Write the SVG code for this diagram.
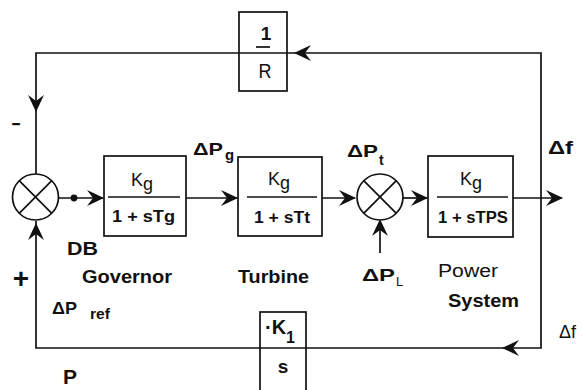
<svg xmlns="http://www.w3.org/2000/svg" width="583" height="390" viewBox="0 0 583 390">
<style>
.ln{fill:none;stroke:#111;stroke-width:1.7}
.bx{fill:#fff;stroke:#111;stroke-width:1.7}
.ah{fill:#111;stroke:none}
text{font-family:"Liberation Sans",Arial,sans-serif;fill:#111}
.b{font-weight:bold}
.n{font-weight:normal}
</style>
<defs>
<path id="ah" d="M0,0 L-17,-8 L-11,0 L-17,8 Z"/>
</defs>
<rect width="583" height="390" fill="#fff"/>

<g id="connectors">
<path class="ln" d="M36,221 V348 H541 V53 H36 V174"/>
<path class="ln" d="M58,198 H103"/>
<circle cx="74" cy="198" r="3.4" fill="#111"/>
<path class="ln" d="M186,198 H237"/>
<path class="ln" d="M322,198 H355"/>
<path class="ln" d="M403,198 H427"/>
<path class="ln" d="M513,198 H562"/>
<path class="ln" d="M380,253 V221"/>
<use href="#ah" class="ah" transform="translate(104,198)"/>
<use href="#ah" class="ah" transform="translate(238,198)"/>
<use href="#ah" class="ah" transform="translate(356,198)"/>
<use href="#ah" class="ah" transform="translate(428,198)"/>
<use href="#ah" class="ah" transform="translate(563,198)"/>
<use href="#ah" class="ah" transform="translate(294,53) rotate(180)"/>
<use href="#ah" class="ah" transform="translate(36,112) rotate(90)"/>
<use href="#ah" class="ah" transform="translate(36,223) rotate(-90)"/>
<use href="#ah" class="ah" transform="translate(380,219) rotate(-90)"/>
<use href="#ah" class="ah" transform="translate(502,348) rotate(180)"/>
</g>

<g id="feedback-R">
<rect class="bx" x="239" y="12" width="48" height="79"/>
<line class="ln" x1="239" y1="53" x2="287" y2="53"/>
<line class="ln" x1="256" y1="47" x2="270" y2="47"/>
<text class="b" x="266" y="40" font-size="19" text-anchor="middle">1</text>
<text class="n" x="265" y="78" font-size="21" text-anchor="middle" textLength="13" lengthAdjust="spacingAndGlyphs">R</text>
</g>

<g id="sum1">
<circle class="bx" cx="35.5" cy="197" r="23"/>
<path class="ln" d="M19.2,180.7 L51.8,213.3 M51.8,180.7 L19.2,213.3"/>
</g>

<g id="governor">
<rect class="bx" x="104" y="156" width="82" height="80"/>
<line class="ln" x1="108" y1="197" x2="180" y2="197"/>
<text class="n" x="131" y="186" font-size="18">K<tspan dy="4">g</tspan></text>
<text class="b" x="112" y="222" font-size="16" textLength="63" lengthAdjust="spacingAndGlyphs">1 + sTg</text>
</g>

<g id="turbine">
<rect class="bx" x="238" y="157" width="84" height="79"/>
<line class="ln" x1="247" y1="197" x2="317" y2="197"/>
<text class="n" x="268" y="185" font-size="18">K<tspan dy="4">g</tspan></text>
<text class="b" x="254" y="223" font-size="16" textLength="56" lengthAdjust="spacingAndGlyphs">1 + sTt</text>
</g>

<g id="sum2">
<circle class="bx" cx="380" cy="197" r="23"/>
<path class="ln" d="M363.7,180.7 L396.3,213.3 M396.3,180.7 L363.7,213.3"/>
</g>

<g id="power-system">
<rect class="bx" x="428" y="156" width="85" height="81"/>
<line class="ln" x1="437" y1="197" x2="508" y2="197"/>
<text class="n" x="460" y="185" font-size="18">K<tspan dy="4">g</tspan></text>
<text class="b" x="438" y="223" font-size="16" textLength="70" lengthAdjust="spacingAndGlyphs">1 + sTPS</text>
</g>

<g id="integrator">
<rect class="bx" x="260" y="312" width="46" height="90"/>
<line class="ln" x1="260" y1="348" x2="306" y2="348"/>
<text class="b" x="265" y="334" font-size="20">·K<tspan font-size="16" dy="9">1</tspan></text>
<text class="b" x="283" y="373" font-size="19" text-anchor="middle">s</text>
</g>

<g id="labels">
<text class="b" x="193" y="155" font-size="17" textLength="30" lengthAdjust="spacingAndGlyphs">ΔP</text>
<text class="b" x="225" y="160" font-size="15">g</text>
<text class="b" x="347" y="157" font-size="17" textLength="31" lengthAdjust="spacingAndGlyphs">ΔP</text>
<text class="b" x="379" y="165" font-size="14">t</text>
<text class="b" x="548" y="154" font-size="18" textLength="25" lengthAdjust="spacingAndGlyphs">Δf</text>
<text class="b" x="67" y="255" font-size="19" textLength="31" lengthAdjust="spacingAndGlyphs">DB</text>
<text class="b" x="82" y="283" font-size="19" textLength="90" lengthAdjust="spacingAndGlyphs">Governor</text>
<text class="b" x="238" y="283" font-size="19" textLength="71" lengthAdjust="spacingAndGlyphs">Turbine</text>
<text class="b" x="362" y="281" font-size="17" textLength="33" lengthAdjust="spacingAndGlyphs">ΔP</text>
<text class="n" x="396" y="286" font-size="13">L</text>
<text class="n" x="438" y="277" font-size="18" textLength="60" lengthAdjust="spacingAndGlyphs">Power</text>
<text class="b" x="448" y="307" font-size="19" textLength="71" lengthAdjust="spacingAndGlyphs">System</text>
<text class="b" x="21" y="288" font-size="28" text-anchor="middle">+</text>
<text class="b" x="16" y="131" font-size="20" text-anchor="middle" textLength="9" lengthAdjust="spacingAndGlyphs">−</text>
<text class="b" x="52" y="314" font-size="17" textLength="25" lengthAdjust="spacingAndGlyphs">ΔP</text>
<text class="b" x="90" y="319" font-size="14" textLength="20" lengthAdjust="spacingAndGlyphs">ref</text>
<text class="b" x="63" y="384" font-size="21">P</text>
<text class="n" x="559" y="338" font-size="18">Δf</text>
</g>
</svg>
